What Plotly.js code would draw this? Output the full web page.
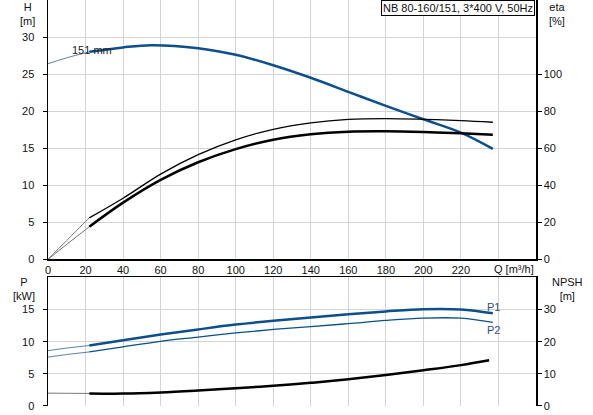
<!DOCTYPE html>
<html>
<head>
<meta charset="utf-8">
<script src="https://cdn.plot.ly/plotly-3.0.1.min.js"></script>
<style>
  html, body { margin: 0; padding: 0; background: #fff; }
  #chart { width: 593px; height: 415px; }
</style>
</head>
<body>
<div id="chart"></div>
<script>
// flow values [m3/h]
const qStart = [0, 10, 22];
const qCurve = [22, 40, 60, 80, 100, 120, 140, 160, 180, 200, 220, 237];

// head H [m], 151 mm impeller
const headStart = [26.4, 27.2, 28.0];
const headQ = [22, 40, 55, 80, 100, 120, 140, 160, 180, 200, 220, 237];
const head = [28.0, 28.6, 28.9, 28.5, 27.6, 26.2, 24.5, 22.6, 20.7, 18.9, 17.1, 14.9];

// efficiencies eta [%]
const etaPumpStart = [0, 10.2, 22.4];
const etaPump = [22.4, 33, 46, 56.5, 64.5, 70.2, 73.7, 75.6, 76.0, 75.6, 74.9, 74.0];
const etaTotalStart = [0, 8.1, 17.6];
const etaTotal = [17.6, 30.6, 42.9, 52.4, 59.5, 64.6, 67.5, 68.9, 69.1, 68.7, 68.0, 67.2];

// power P1 / P2 [kW]
const p1Start = [8.6, 9.0, 9.4];
const p1 = [9.4, 10.2, 11.1, 11.9, 12.65, 13.25, 13.75, 14.25, 14.7, 15.05, 15.0, 14.4];
const p2Start = [7.6, 8.0, 8.4];
const p2 = [8.4, 9.2, 10.05, 10.7, 11.35, 11.9, 12.35, 12.8, 13.3, 13.65, 13.65, 13.0];

// NPSH [m]
const npshStart = [4.0, 3.95, 3.9];
const npshQ = [22, 40, 60, 80, 100, 120, 140, 160, 180, 200, 220, 235];
const npsh = [3.9, 3.85, 4.2, 4.8, 5.5, 6.3, 7.2, 8.3, 9.6, 11.1, 12.7, 14.2];

const xTicks = [0, 20, 40, 60, 80, 100, 120, 140, 160, 180, 200, 220, 240];
const xTickText = ["0", "20", "40", "60", "80", "100", "120", "140", "160", "180", "200", "220", ""];

const BLUE = "#0b4f8e";
const BLUE_THIN = "#5f7fa6";
const GREY_THIN = "#777";
const FONT = "Liberation Sans, Arial, sans-serif";

function line(x, y, xa, ya, color, width) {
  return {
    x: x, y: y, xaxis: xa, yaxis: ya,
    type: "scatter", mode: "lines",
    line: { color: color, width: width, shape: "spline", smoothing: 1 },
    hoverinfo: "skip", showlegend: false,
  };
}

const data = [
  line(qStart, headStart, "x", "y", BLUE_THIN, 1),
  line(headQ, head, "x", "y", BLUE, 2.5),
  line(qStart, etaPumpStart, "x", "y2", GREY_THIN, 1),
  line(qCurve, etaPump, "x", "y2", "#000", 1.3),
  line(qStart, etaTotalStart, "x", "y2", GREY_THIN, 1),
  line(qCurve, etaTotal, "x", "y2", "#000", 2.5),
  line(qStart, p1Start, "x2", "y3", BLUE_THIN, 1),
  line(qCurve, p1, "x2", "y3", BLUE, 2.5),
  line(qStart, p2Start, "x2", "y3", BLUE_THIN, 1),
  line(qCurve, p2, "x2", "y3", BLUE, 1.3),
  line(qStart, npshStart, "x2", "y4", GREY_THIN, 1),
  line(npshQ, npsh, "x2", "y4", "#000", 2.5),
];

const grid = "#d4d4d4";
const tickFont = { family: FONT, size: 11, color: "#111" };

function note(text, x, y, xref, yref, extra) {
  return Object.assign({
    text: text, x: x, y: y, xref: xref, yref: yref,
    xanchor: "center", yanchor: "middle",
    showarrow: false, font: { family: FONT, size: 11, color: "#111" },
  }, extra || {});
}

const layout = {
  width: 593,
  height: 415,
  margin: { l: 48, r: 57, t: 0, b: 9 },
  paper_bgcolor: "#fff",
  plot_bgcolor: "#fff",
  font: { family: FONT, size: 11, color: "#111" },
  xaxis: {
    domain: [0, 1], anchor: "y", range: [0, 260],
    tickvals: xTicks, ticktext: xTickText,
    showgrid: true, gridcolor: grid, zeroline: false,
    showline: true, linecolor: "#000", linewidth: 1.5,
    ticks: "", tickfont: tickFont,
  },
  yaxis: {
    domain: [0.3613, 1], range: [0, 35],
    tickvals: [0, 5, 10, 15, 20, 25, 30],
    showgrid: true, gridcolor: grid, zeroline: false,
    showline: true, linecolor: "#000", linewidth: 1.5,
    ticks: "outside", ticklen: 4, tickcolor: "#000",
    ticklabelstandoff: 6, tickfont: tickFont,
  },
  yaxis2: {
    overlaying: "y", side: "right", anchor: "x", range: [0, 140],
    tickvals: [0, 20, 40, 60, 80, 100],
    showgrid: false, zeroline: false,
    showline: true, linecolor: "#000", linewidth: 1.5,
    ticks: "outside", ticklen: 4, tickcolor: "#000", tickfont: tickFont,
  },
  xaxis2: {
    domain: [0, 1], anchor: "y3", side: "top", range: [0, 260],
    tickvals: xTicks.slice(1), showticklabels: false,
    showgrid: true, gridcolor: grid, zeroline: false,
    showline: true, linecolor: "#000", linewidth: 1.5, ticks: "",
  },
  yaxis3: {
    domain: [0, 0.317], anchor: "x2", range: [0, 20],
    tickvals: [0, 5, 10, 15],
    showgrid: true, gridcolor: grid, gridwidth: 1, zeroline: false,
    showline: true, linecolor: "#000", linewidth: 1.5,
    ticks: "outside", ticklen: 4, tickcolor: "#000",
    ticklabelstandoff: 6, tickfont: tickFont,
  },
  yaxis4: {
    overlaying: "y3", side: "right", anchor: "x2", range: [0, 40],
    tickvals: [0, 10, 20, 30],
    showgrid: false, zeroline: false,
    showline: true, linecolor: "#000", linewidth: 1.5,
    ticks: "outside", ticklen: 4, tickcolor: "#000", tickfont: tickFont,
  },
  annotations: [
    note("NB 80-160/151, 3*400 V, 50Hz", 0.998, 1, "paper", "paper",
      { xanchor: "right", yanchor: "top", bordercolor: "#000", borderwidth: 1,
        borderpad: 1, bgcolor: "#fff" }),
    note("151 mm", 23.7, 28.2, "x", "y", { font: { family: FONT, size: 11, color: "#222" } }),
    note("Q [m\u00b3/h]", 248.5, 0.3374, "x", "paper"),
    note("P1", 233, 15.4, "x2", "y3", { xanchor: "left", font: { family: FONT, size: 11, color: "#2b4f78" } }),
    note("P2", 233, 11.8, "x2", "y3", { xanchor: "left", font: { family: FONT, size: 11, color: "#2b4f78" } }),
    note("H<br>[m]", -0.043, 1, "paper", "paper", { yanchor: "top", borderpad: 0 }),
    note("eta<br>[%]", 1.044, 1, "paper", "paper", { yanchor: "top", borderpad: 0 }),
    note("P<br>[kW]", -0.049, 0.287, "paper", "paper", { borderpad: 0 }),
    note("NPSH<br>[m]", 1.064, 0.287, "paper", "paper", { borderpad: 0 }),
  ],
};

Plotly.newPlot("chart", data, layout, { displayModeBar: false, staticPlot: true });
</script>
</body>
</html>
